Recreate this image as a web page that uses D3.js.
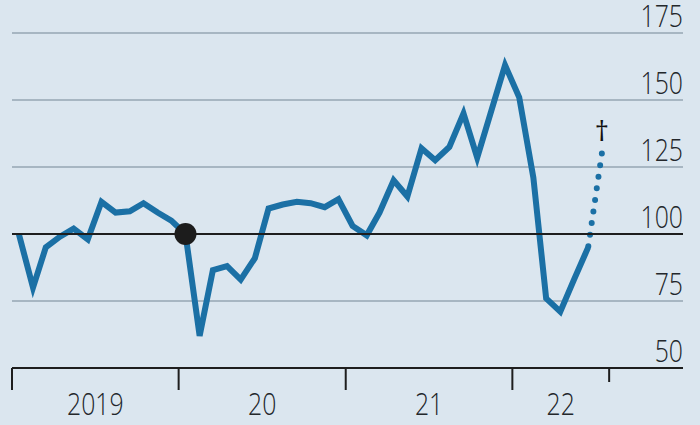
<!DOCTYPE html>
<html>
<head>
<meta charset="utf-8">
<script src="https://cdn.jsdelivr.net/npm/d3@7"></script>
<style>
  html, body { margin: 0; padding: 0; background: #dbe6ef; }
  svg { display: block; }
  text { font-family: "Open Sans", "Lato", sans-serif; font-weight: 300; fill: #23272b; }
</style>
</head>
<body>
<svg id="chart" width="700" height="425"></svg>
<script>
// ---- data ----
const startYear = 2019;
const values = [100, 80, 95, 99, 102, 98, 112, 108, 108.5, 111.5, 108, 105,
                100, 62, 86.5, 88, 83, 91, 109.5, 111, 112, 111.5, 110, 113,
                103, 99.5, 108, 120, 114, 132, 127.5, 132.5, 145, 128.5, 146, 163,
                151, 121, 76, 71, 83, 95];
const forecastValue = 130;        // dotted extension (Jul 2022)
const markerIndex = 12;           // black dot, Jan 2020
const yTicks = [50, 75, 100, 125, 150, 175];
const yearLabels = ["2019", "20", "21", "22"];
const yearTicks = [2019, 2020, 2021, 2022];

// ---- layout ----
const svg = d3.select("#chart");
const mLeft = 12, mRight = 683, mTop = 33, mBottom = 368;
const fontSize = 31, squeeze = 0.8;

const x = d3.scaleTime()
  .domain([new Date(2019, 0, 1), new Date(2023, 0, 1)])
  .range([mLeft, mLeft + 4 * 166.75]);
const y = d3.scaleLinear().domain([50, 175]).range([mBottom, mTop]);

const pts = values.map((v, i) => ({ d: new Date(startYear, i, 16), v }));
const last = pts[pts.length - 1];
const fc = [last, { d: new Date(startYear, values.length, 16), v: forecastValue }];

// gridlines
svg.append("g").selectAll("line")
  .data(yTicks.filter(t => t !== 50 && t !== 100))
  .join("line")
  .attr("x1", mLeft).attr("x2", mRight)
  .attr("y1", d => y(d)).attr("y2", d => y(d))
  .attr("stroke", "#a7b6c2").attr("stroke-width", 2);

// y labels
svg.append("g").selectAll("text")
  .data(yTicks)
  .join("text")
  .attr("transform", d => `translate(${mRight},${y(d) - 6}) scale(${squeeze},1)`)
  .attr("text-anchor", "end")
  .attr("font-size", fontSize)
  .text(d => d);

// line
const line = d3.line().x(d => x(d.d)).y(d => y(d.v));
svg.append("path")
  .datum(pts)
  .attr("d", line)
  .attr("fill", "none")
  .attr("stroke", "#1b70a5")
  .attr("stroke-width", 6)
  .attr("stroke-linejoin", "miter")
  .attr("stroke-miterlimit", 4);

// dotted forecast
const gap = 11.7;
const fcPath = svg.append("path")
  .datum(fc)
  .attr("d", line)
  .attr("fill", "none")
  .attr("stroke", "#1b70a5")
  .attr("stroke-width", 6)
  .attr("stroke-linecap", "round");
const L = fcPath.node().getTotalLength();
fcPath.attr("stroke-dasharray", `0,${gap}`)
  .attr("stroke-dashoffset", -(L % gap));

// 100 line
svg.append("line")
  .attr("x1", mLeft).attr("x2", mRight)
  .attr("y1", y(100)).attr("y2", y(100))
  .attr("stroke", "#1e1e1e").attr("stroke-width", 2);

// marker dot
svg.append("circle")
  .attr("cx", x(pts[markerIndex].d)).attr("cy", y(pts[markerIndex].v))
  .attr("r", 11).attr("fill", "#1c1c1c");

// dagger
svg.append("text")
  .attr("x", x(fc[1].d)).attr("y", 141)
  .attr("text-anchor", "middle")
  .attr("font-size", 28)
  .style("font-weight", 400)
  .style("fill", "#111")
  .text("†");

// x axis
svg.append("line")
  .attr("x1", mLeft).attr("x2", mRight)
  .attr("y1", mBottom).attr("y2", mBottom)
  .attr("stroke", "#1e1e1e").attr("stroke-width", 2);

svg.append("g").selectAll("line")
  .data(yearTicks)
  .join("line")
  .attr("x1", d => x(new Date(d, 0, 1))).attr("x2", d => x(new Date(d, 0, 1)))
  .attr("y1", mBottom).attr("y2", mBottom + 22)
  .attr("stroke", "#1e1e1e").attr("stroke-width", 2);

const endDate = new Date(startYear, values.length + 1, 1);
svg.append("line")
  .attr("x1", x(endDate)).attr("x2", x(endDate))
  .attr("y1", mBottom).attr("y2", mBottom + 14)
  .attr("stroke", "#1e1e1e").attr("stroke-width", 2);

const labelPos = [
  [new Date(2019, 0, 1), new Date(2020, 0, 1)],
  [new Date(2020, 0, 1), new Date(2021, 0, 1)],
  [new Date(2021, 0, 1), new Date(2022, 0, 1)],
  [new Date(2022, 0, 1), endDate]
];
svg.append("g").selectAll("text")
  .data(yearLabels)
  .join("text")
  .attr("transform", (d, i) => `translate(${(x(labelPos[i][0]) + x(labelPos[i][1])) / 2},415) scale(${squeeze},1)`)
  .attr("text-anchor", "middle")
  .attr("font-size", fontSize)
  .text(d => d);
</script>
</body>
</html>
